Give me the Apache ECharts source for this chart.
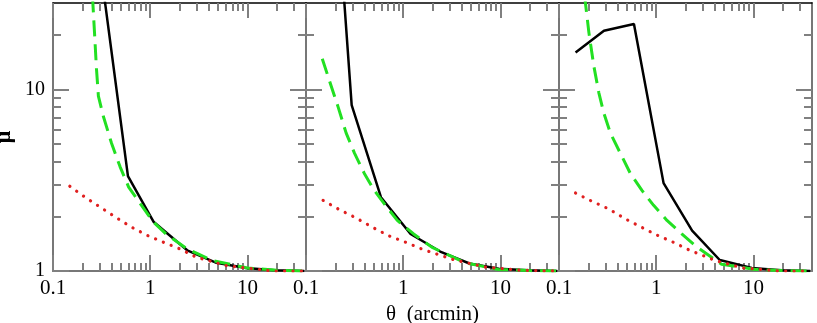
<!DOCTYPE html>
<html><head><meta charset="utf-8">
<script src="https://cdn.jsdelivr.net/npm/echarts@6/dist/echarts.min.js"></script>
<style>html,body{margin:0;padding:0;background:#fff}#c{width:817px;height:323px}</style>
</head><body><div id="c"></div>
<script>
// tick labels / tick positions
const xMajor = [0.1, 1, 10];
const xMinor = [0.2, 0.3, 0.4, 0.5, 0.6, 0.7, 0.8, 0.9, 2, 3, 4, 5, 6, 7, 8, 9, 20, 30];
const yMajor = [1, 10];
const yMinor = [2, 3, 4, 5, 6, 7, 8, 9, 20];
const xRange = [0.1, 40];
const yRange = [1, 30];
const xTitle = 'θ  (arcmin)';
const yTitle = 'μ';

// panel 1
const p1Black = [[0.3, 52], [0.59, 3.33], [1.08, 1.87], [2.4, 1.30], [4.8, 1.11], [9.6, 1.04], [19.2, 1.01], [38.4, 1.0]];
const p1Green = [[0.245, 60], [0.257, 30], [0.268, 20], [0.28, 13], [0.293, 9.2], [0.33, 7.1], [0.40, 5.06], [0.49, 3.75], [0.6, 2.9], [0.79, 2.35], [1.08, 1.86], [1.49, 1.58], [2.37, 1.33], [4.37, 1.14], [10, 1.04], [20, 1.01], [38, 1.0]];
const p1Red = [[0.149, 2.93], [0.214, 2.55], [0.305, 2.25], [0.454, 1.96], [0.648, 1.74], [0.96, 1.56], [1.37, 1.44], [2.04, 1.32], [3.0, 1.19], [6.1, 1.07], [18, 1.0], [38, 1.0]];
// panel 2
const p2Black = [[0.15, 1300], [0.295, 8.2], [0.59, 2.55], [1.19, 1.6], [2.4, 1.28], [4.8, 1.1], [9.6, 1.03], [19.2, 1.01], [38.4, 1.0]];
const p2Green = [[0.147, 14.8], [0.175, 11.1], [0.213, 8.08], [0.259, 5.75], [0.316, 4.45], [0.398, 3.45], [0.504, 2.78], [0.637, 2.35], [0.869, 1.9], [1.28, 1.6], [1.98, 1.35], [4.36, 1.11], [9.5, 1.02], [20, 1.005], [38, 1.0]];
const p2Red = [[0.15, 2.45], [0.22, 2.18], [0.328, 1.96], [0.484, 1.74], [0.716, 1.56], [1.06, 1.44], [1.56, 1.32], [3.2, 1.16], [7, 1.05], [16, 1.01], [38, 1.0]];
// panel 3
const p3Black = [[0.148, 16], [0.29, 21.1], [0.59, 23], [1.19, 3.05], [2.34, 1.67], [4.5, 1.15], [9.6, 1.04], [19.2, 1.01], [38.4, 1.0]];
const p3Green = [[0.16, 60], [0.187, 30], [0.203, 20.6], [0.228, 13.5], [0.257, 9.6], [0.289, 7.42], [0.338, 5.75], [0.428, 4.45], [0.542, 3.45], [0.713, 2.78], [0.94, 2.3], [1.29, 1.9], [1.83, 1.6], [2.6, 1.36], [4.7, 1.09], [10.5, 1.02], [20, 1.005], [37, 1.0]];
const p3Red = [[0.148, 2.69], [0.219, 2.42], [0.324, 2.2], [0.479, 1.94], [0.71, 1.74], [1.01, 1.58], [1.5, 1.44], [2.22, 1.30], [4.1, 1.14], [7.7, 1.04], [18.5, 1.0], [38, 1.0]];

const panels = [
  { black: p1Black, green: p1Green, red: p1Red },
  { black: p2Black, green: p2Green, red: p2Red },
  { black: p3Black, green: p3Green, red: p3Red }
];

const FONT = 'Liberation Serif';
const TICK = '#808080';
const grids = [], xAxes = [], yAxes = [], series = [];

panels.forEach((p, i) => {
  grids.push({ left: 53 + 253 * i, top: 3, width: 253, height: 268, containLabel: false, outerBoundsMode: 'none' });
  const xBase = { type: 'log', logBase: 10, min: xRange[0], max: xRange[1], gridIndex: i, splitLine: { show: false } };
  const yBase = { type: 'log', logBase: 10, min: yRange[0], max: yRange[1], gridIndex: i, splitLine: { show: false } };
  const mk = (base, pos, vals, len, line, label, extra) => Object.assign({}, base, {
    position: pos,
    axisLine: line ? { show: true, onZero: false, lineStyle: line } : { show: false, onZero: false },
    axisTick: { show: true, inside: true, length: len, customValues: vals, lineStyle: { color: TICK, width: 2 } },
    axisLabel: label || { show: false }
  }, extra || {});
  const xLab = { show: true, customValues: xMajor, margin: 7, color: '#000', fontFamily: FONT, fontSize: 21, formatter: v => String(v) };
  // x axes: bottom major (data), bottom minor, top major, top minor
  xAxes.push(mk(xBase, 'bottom', xMajor, 16, { color: '#777', width: 2 }, xLab,
    i === 1 ? { name: xTitle, nameLocation: 'middle', nameGap: 31, nameTextStyle: { fontFamily: FONT, fontSize: 21, color: '#000' } } : null));
  xAxes.push(mk(xBase, 'bottom', xMinor, 8, null, null));
  xAxes.push(mk(xBase, 'top', xMajor, 15, { color: '#000', width: 1.5 }, null));
  xAxes.push(mk(xBase, 'top', xMinor, 8, null, null));
  const yLab = i === 0 ? { show: true, customValues: yMajor, margin: 8, color: '#000', fontFamily: FONT, fontSize: 20, formatter: v => String(v) } : null;
  yAxes.push(mk(yBase, 'left', yMajor, 16, { color: '#777', width: 2 }, yLab,
    i === 0 ? { name: yTitle, nameLocation: 'middle', nameRotate: 90, nameGap: 38, nameTextStyle: { fontFamily: FONT, fontSize: 22, fontWeight: 'bold', color: '#000' } } : null));
  yAxes.push(mk(yBase, 'left', yMinor, 8, null, null));
  yAxes.push(mk(yBase, 'right', yMajor, 16, { color: '#777', width: 2 }, null));
  yAxes.push(mk(yBase, 'right', yMinor, 8, null, null));

  const common = { type: 'line', xAxisIndex: 4 * i, yAxisIndex: 4 * i, symbol: 'none', showSymbol: false, clip: true, silent: true, animation: false };
  series.push(Object.assign({}, common, { data: p.black, z: 2, lineStyle: { color: '#000', width: 2.5 } }));
  series.push(Object.assign({}, common, { data: p.green, z: 3, lineStyle: { color: '#22e022', width: 3, type: [16, 8], join: 'round' } }));
  series.push(Object.assign({}, common, { data: p.red, z: 4, lineStyle: { color: '#e02020', width: 3.2, type: [0.1, 8.3], cap: 'round' } }));
});

const chart = echarts.init(document.getElementById('c'), null, { renderer: 'canvas' });
chart.setOption({
  animation: false,
  backgroundColor: '#fff',
  grid: grids,
  xAxis: xAxes,
  yAxis: yAxes,
  series: series
});
</script>
</body></html>
